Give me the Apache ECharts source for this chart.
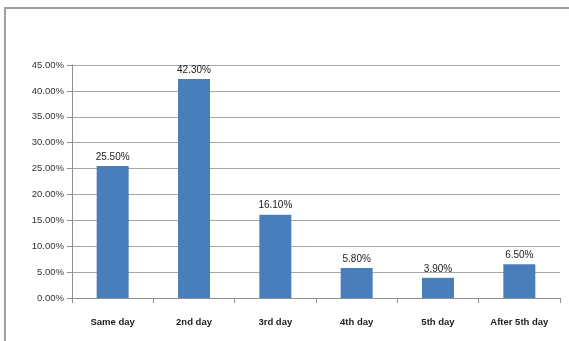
<!DOCTYPE html>
<html lang="en">
<head>
  <meta charset="UTF-8">
  <title>Days</title>
  <script src="https://cdn.jsdelivr.net/npm/echarts@6/dist/echarts.min.js"></script>
  <style>
    html, body { margin: 0; padding: 0; background: #fff; }
  </style>
</head>
<body>
  <div id="chart" style="width: 569px;height: 341px;"></div>
</body>
<script>
  var categories = ['Same day', '2nd day', '3rd day', '4th day', '5th day', 'After 5th day']
  var values = [25.5, 42.3, 16.1, 5.8, 3.9, 6.5]
  var labels = ['25.50%', '42.30%', '16.10%', '5.80%', '3.90%', '6.50%']

  var chart = echarts.init(document.getElementById('chart'))
  var font = 'Liberation Sans'
  var option = {
    animation: false,
    graphic: [{
      type: 'rect',
      shape: { x: 5, y: 8, width: 600, height: 400 },
      style: { fill: 'none', stroke: '#a0a0a0', lineWidth: 2 }
    }],
    grid: { left: 72, right: 9, top: 65, bottom: 43 },
    xAxis: {
      type: 'category',
      data: categories,
      axisLine: { lineStyle: { color: '#909090' } },
      axisTick: { show: true, lineStyle: { color: '#909090' } },
      axisLabel: { color: '#222', fontFamily: font, fontSize: 9.5, fontWeight: 'bold', margin: 19 }
    },
    yAxis: {
      type: 'value',
      min: 0,
      max: 45,
      interval: 5,
      axisLine: { show: true, lineStyle: { color: '#909090' } },
      axisTick: { show: true, length: 5, lineStyle: { color: '#909090' } },
      splitLine: { lineStyle: { color: '#a6a6a6' } },
      axisLabel: {
        color: '#333', fontFamily: font, fontSize: 9.5, margin: 8,
        formatter: function (v) { return v.toFixed(2) + '%' }
      }
    },
    series: [{
      type: 'bar',
      data: values,
      barWidth: 32,
      itemStyle: { color: '#4a7ebb' },
      label: {
        show: true,
        position: 'top',
        color: '#222',
        fontFamily: font,
        fontSize: 10,
        distance: 4,
        formatter: function (p) { return labels[p.dataIndex] }
      }
    }]
  }
  chart.setOption(option)
</script>
</html>
